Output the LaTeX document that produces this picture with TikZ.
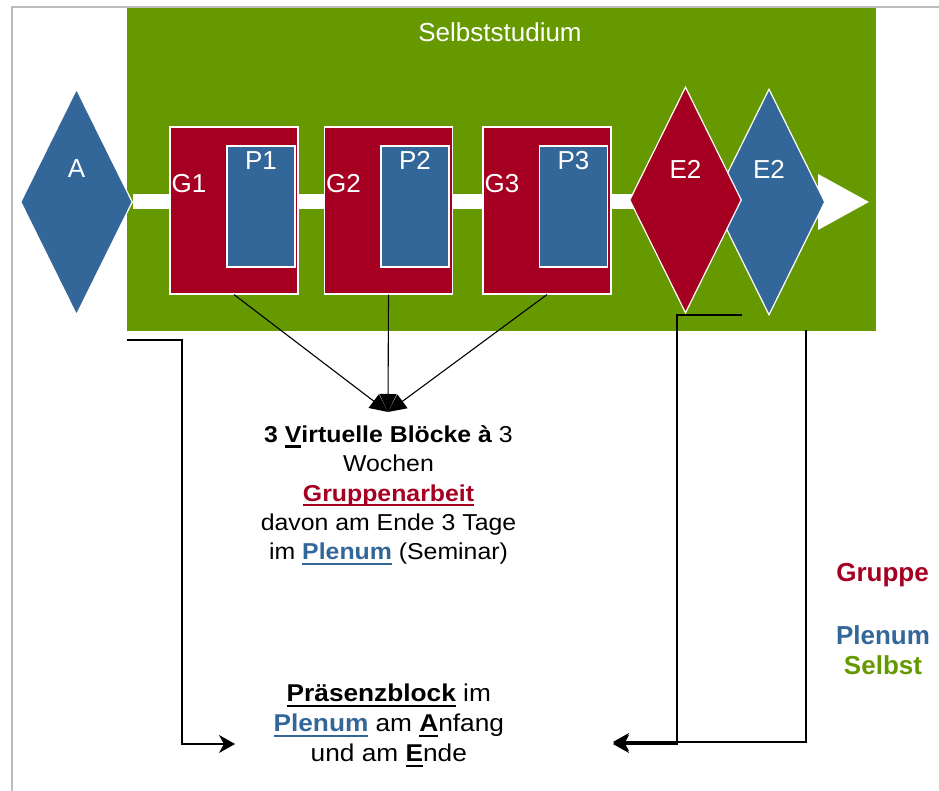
\documentclass[tikz,border=0pt]{standalone}
\usepackage{fontspec}
\setmainfont{Liberation Sans}
\newfontfamily\widefont[FakeStretch=1.08]{Liberation Sans}
\usepackage{xcolor}
\usetikzlibrary{shapes.geometric,arrows.meta,positioning}

\definecolor{selbstgreen}{HTML}{669900}
\definecolor{gruppered}{HTML}{A50021}
\definecolor{plenumblue}{HTML}{336699}
\definecolor{framegray}{HTML}{BBBBBB}

% underline with a rule in the current colour
\newcommand{\ulin}[1]{\setbox0\hbox{#1}\rlap{\rule[-5pt]{\wd0}{2.2pt}}\box0}

\tikzset{
  every node/.style={font=\fontsize{26}{30}\selectfont},
  studyarea/.style={rectangle, fill=selbstgreen, inner sep=0pt,
                    minimum width=749pt, minimum height=323pt},
  kite/.style={diamond, draw=white, line width=1.2pt, inner sep=0pt,
               minimum width=112pt, minimum height=226pt},
  gblock/.style={rectangle, draw=white, line width=1.2pt, fill=gruppered,
                 inner sep=0pt, minimum width=128pt, minimum height=167pt},
  pblock/.style={rectangle, draw=white, line width=1.2pt, fill=plenumblue,
                 inner sep=0pt, minimum width=68pt, minimum height=121pt},
  link/.style={line width=1.1pt},
  legend/.style={anchor=base, font=\fontsize{26}{30}\selectfont\bfseries}
}

\begin{document}
\begin{tikzpicture}[x=10pt, y=10pt]

  \useasboundingbox (0,0) rectangle (93.9,79.1);

  % frame
  \draw [framegray, line width=1.2pt] (1.2, 0) -- (1.2, 78.4) -- (93.9, 78.4);

  % self study area
  \node [studyarea]            (studium) at (50.15, 62.15) {};
  \node [white, anchor=base]   (title)   at (50.0,  74.9)  {Selbststudium};

  % start
  \node [kite, fill=plenumblue, label={[white, yshift=33pt]center:A}]  (A)   at (7.65,  58.9) {};

  % timeline
  \coordinate (tip) at (87.0, 58.9);
  \draw [white, line width=15pt, -{Triangle[length=52pt, width=52pt]}] (A.east) -- (tip);

  % end
  \node [kite, fill=plenumblue, label={[white, yshift=33pt]center:E2}] (E2p) at (76.9,  58.9) {};
  \node [kite, fill=gruppered,  label={[white, yshift=31pt]center:E2}] (E2g) at (68.55, 59.1) {};

  % group blocks
  \node [gblock, label={[white, anchor=west, inner sep=2pt, yshift=27pt]west:G1}] (G1) at (23.4,  58.05) {};
  \node [gblock, label={[white, anchor=west, inner sep=2pt, yshift=27pt]west:G2}] (G2) at (38.85, 58.05) {};
  \node [gblock, label={[white, anchor=west, inner sep=2pt, yshift=27pt]west:G3}] (G3) at (54.7,  58.05) {};

  % plenum blocks
  \node [pblock, label={[white, anchor=north, inner sep=2pt, yshift=-4pt]north:P1}] (P1) at (26.1,  58.45) {};
  \node [pblock, label={[white, anchor=north, inner sep=2pt, yshift=-4pt]north:P2}] (P2) at (41.5,  58.45) {};
  \node [pblock, label={[white, anchor=north, inner sep=2pt, yshift=-4pt]north:P3}] (P3) at (57.35, 58.45) {};

  % virtual blocks
  \coordinate (merge) at (38.8, 37.9);
  \draw [link, -{Triangle[length=18pt, width=17pt]}] (G1.south) -- (merge);
  \draw [link, -{Triangle[length=18pt, width=17pt]}] (G2.south) -- (merge);
  \draw [link, -{Triangle[length=18pt, width=17pt]}] (G3.south) -- (merge);

  \node [align=center, anchor=north, inner sep=0pt, font=\widefont\fontsize{23}{29.3}\selectfont]
        (virtual) at (38.85, 36.55)
        {\textbf{3 \ulin{V}irtuelle Blöcke à} 3\\
         Wochen\\
         \textcolor{gruppered}{\textbf{\ulin{Gruppenarbeit}}}\\
         davon am Ende 3 Tage\\
         im \textcolor{plenumblue}{\textbf{\ulin{Plenum}}} (Seminar)};

  % presence block
  \node [align=center, anchor=north, inner sep=0pt, font=\widefont\fontsize{24.3}{30}\selectfont]
        (praesenz) at (38.88, 10.7)
        {\textbf{\ulin{Präsenzblock}} im\\
         \textcolor{plenumblue}{\textbf{\ulin{Plenum}}} am \textbf{\ulin{A}}nfang\\
         und am \textbf{\ulin{E}}nde};

  % connectors to the presence block
  \coordinate (startleft)  at (12.7, 45.1);
  \coordinate (endleft)    at (23.5, 4.7);
  \coordinate (startgroup) at (74.2, 47.6);
  \coordinate (startplen)  at (80.6, 46.1);
  \coordinate (endgroup)   at (61.3, 4.7);
  \coordinate (endplen)    at (61.3, 4.9);

  \draw [link, -{Stealth[length=16pt, width=18pt, inset=5pt]}] (startleft)  -- ++(5.5, 0) |- (endleft);
  \draw [link, -{Stealth[length=16pt, width=18pt, inset=5pt]}] (startgroup) -- ++(-6.5, 0) |- (endgroup);
  \draw [link, -{Stealth[length=16pt, width=18pt, inset=5pt]}] (startplen)  |- (endplen);

  % legend
  \node [legend, text=gruppered]   (gruppe) at (88.25, 20.9) {Gruppe};
  \node [legend, text=plenumblue]  (plenum) at (88.3,  14.6) {Plenum};
  \node [legend, text=selbstgreen] (selbst) at (88.3,  11.6) {Selbst};

\end{tikzpicture}
\end{document}
